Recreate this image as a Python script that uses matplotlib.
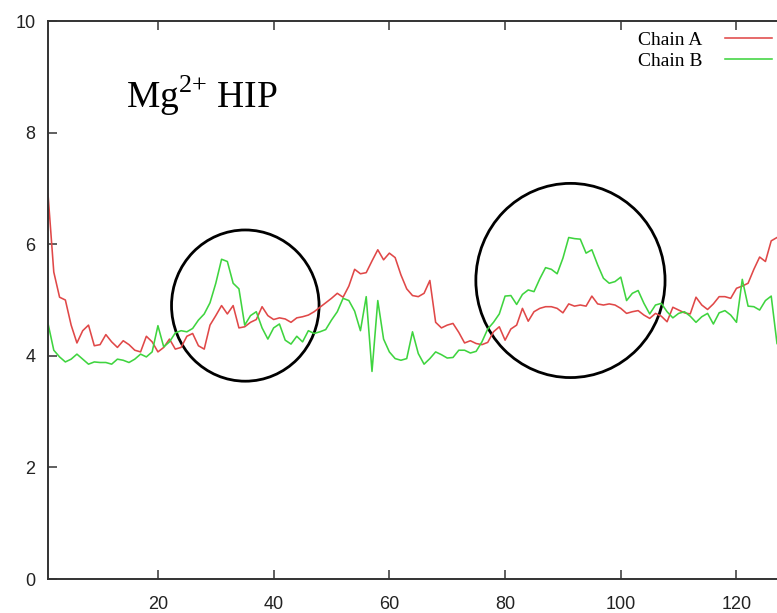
import numpy as np
import matplotlib
matplotlib.use('Agg')
import matplotlib.pyplot as plt
from matplotlib.patches import Ellipse

# residue index 1..127
residue = np.arange(1, 128)

chain_a = [6.9, 5.5, 5.05, 5.0, 4.55, 4.23, 4.45, 4.55, 4.18, 4.2,
           4.38, 4.25, 4.15, 4.27, 4.2, 4.1, 4.07, 4.35, 4.25, 4.07,
           4.15, 4.3, 4.12, 4.15, 4.35, 4.4, 4.18, 4.12, 4.55, 4.72,
           4.9, 4.75, 4.9, 4.5, 4.52, 4.6, 4.65, 4.88, 4.72, 4.65,
           4.68, 4.66, 4.6, 4.68, 4.7, 4.73, 4.79, 4.87, 4.95, 5.03,
           5.12, 5.05, 5.25, 5.55, 5.47, 5.49, 5.7, 5.9, 5.72, 5.84,
           5.76, 5.45, 5.2, 5.08, 5.06, 5.12, 5.35, 4.6, 4.5, 4.55,
           4.58, 4.42, 4.23, 4.27, 4.22, 4.2, 4.24, 4.43, 4.52, 4.28,
           4.48, 4.55, 4.85, 4.62, 4.79, 4.85, 4.88, 4.88, 4.85, 4.77,
           4.93, 4.89, 4.91, 4.89, 5.07, 4.93, 4.91, 4.93, 4.91, 4.85,
           4.76, 4.79, 4.81, 4.73, 4.67, 4.76, 4.71, 4.61, 4.87, 4.82,
           4.77, 4.75, 5.05, 4.91, 4.83, 4.93, 5.06, 5.06, 5.03, 5.21,
           5.25, 5.3, 5.55, 5.77, 5.69, 6.06, 6.12]

chain_b = [4.58, 4.1, 3.98, 3.89, 3.94, 4.03, 3.94, 3.85, 3.89, 3.88,
           3.88, 3.85, 3.94, 3.92, 3.88, 3.94, 4.03, 3.98, 4.07, 4.54,
           4.16, 4.25, 4.41, 4.45, 4.43, 4.49, 4.64, 4.75, 4.95, 5.3,
           5.73, 5.69, 5.3, 5.2, 4.55, 4.72, 4.79, 4.5, 4.3, 4.5,
           4.57, 4.28, 4.21, 4.35, 4.25, 4.45, 4.4, 4.43, 4.47, 4.64,
           4.79, 5.03, 4.99, 4.8, 4.45, 5.06, 3.72, 4.99, 4.3, 4.07,
           3.95, 3.92, 3.95, 4.43, 4.04, 3.85, 3.95, 4.07, 4.02, 3.96,
           3.97, 4.1, 4.1, 4.05, 4.08, 4.25, 4.48, 4.6, 4.75, 5.07,
           5.08, 4.92, 5.1, 5.18, 5.15, 5.38, 5.58, 5.55, 5.47, 5.75,
           6.12, 6.1, 6.09, 5.84, 5.9, 5.63, 5.39, 5.3, 5.33, 5.41,
           4.99, 5.12, 5.17, 4.94, 4.75, 4.91, 4.94, 4.79, 4.68, 4.76,
           4.79, 4.71, 4.6, 4.7, 4.76, 4.57, 4.77, 4.81, 4.73, 4.6,
           5.37, 4.89, 4.88, 4.82, 4.99, 5.07, 4.22]

xticks = [20, 40, 60, 80, 100, 120]
yticks = [0, 2, 4, 6, 8, 10]

plt.rcParams['mathtext.fontset'] = 'custom'
plt.rcParams['mathtext.rm'] = 'Liberation Serif'

fig = plt.figure(figsize=(7.77, 6.13), dpi=100)
ax = fig.add_axes([48 / 777, 34 / 613, 1 - 48 / 777, 558 / 613])

ax.plot(residue, chain_a, color='#e04848', lw=1.15, label='Chain A')
ax.plot(residue, chain_b, color='#3fd43f', lw=1.15, label='Chain B')

ax.set_xlim(1, 127)
ax.set_ylim(0, 10)
ax.set_xticks(xticks)
ax.set_yticks(yticks)

for s in ['left', 'bottom', 'top']:
    ax.spines[s].set_color('#333333')
    ax.spines[s].set_linewidth(1.4)
ax.spines['right'].set_visible(False)

ax.tick_params(direction='in', length=6.5, width=1.2, color='#444444',
               top=True, right=False, labelsize=13, labelcolor='#222222')
ax.tick_params(axis='y', pad=9)
ax.tick_params(axis='x', pad=12)
for lab in ax.get_xticklabels() + ax.get_yticklabels():
    lab.set_family('Liberation Sans')

# highlighted regions
ax.add_patch(Ellipse((35.1, 4.90), 25.5, 2.71, fill=False, lw=2.0, color='black'))
ax.add_patch(Ellipse((91.3, 5.35), 32.7, 3.48, fill=False, lw=2.0, color='black'))

leg = ax.legend(loc='upper right', bbox_to_anchor=(772 / 777, 1 - 31 / 613),
                bbox_transform=fig.transFigure, frameon=False, markerfirst=False,
                prop={'family': 'Liberation Serif', 'size': 14},
                handlelength=2.4, handletextpad=1.2, labelspacing=0.2,
                borderpad=0, borderaxespad=0)

fig.text(126 / 777, 1 - 108 / 613, r'Mg$^{2{+}}$ HIP', family='Liberation Serif',
         fontsize=27, va='baseline')

fig.savefig('out.png', dpi=100)
